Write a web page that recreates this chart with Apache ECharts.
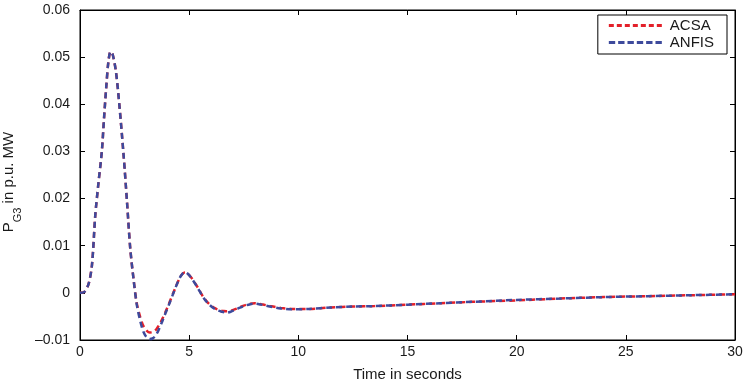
<!DOCTYPE html>
<html>
<head>
<meta charset="utf-8">
<script src="https://cdn.jsdelivr.net/npm/echarts@6/dist/echarts.min.js"></script>
<style>
  html, body { margin: 0; padding: 0; background: #fff; }
  #chart { width: 748px; height: 381px; }
</style>
</head>
<body>
<div id="chart"></div>
<script>
// time samples (s)
var timeArr = [0, 0.2, 0.4, 0.55, 0.7, 0.85, 1.0, 1.1, 1.2, 1.3, 1.4, 1.5, 1.65, 1.8, 2.0, 2.15, 2.3, 2.45, 2.6, 2.75,
  2.9, 3.05, 3.2, 3.35, 3.5, 3.7, 3.9, 4.1, 4.3, 4.5, 4.65, 4.8, 4.95, 5.15, 5.4, 5.65, 5.9, 6.2, 6.5, 6.7,
  6.9, 7.2, 7.5, 7.8, 8.0, 8.3, 8.7, 9.2, 9.7, 10.5, 11.5, 12.5, 13.5, 15, 16.5, 18, 20, 22, 24, 26, 28, 30];

var anfisArr = [0, 0.0002, 0.002, 0.006, 0.0165, 0.0235, 0.030, 0.037, 0.0435, 0.049, 0.0512, 0.0505, 0.0468, 0.040, 0.029, 0.0195, 0.0095, 0.003, -0.0025, -0.0058,
  -0.0082, -0.0094, -0.0098, -0.0096, -0.0088, -0.0068, -0.0045, -0.0022, 0.0002, 0.0025, 0.0038, 0.0044, 0.0040, 0.0028, 0.0010, -0.0010, -0.0024, -0.0035, -0.0040, -0.0042,
  -0.0040, -0.0034, -0.0028, -0.0024, -0.0023, -0.0025, -0.0029, -0.0033, -0.0035, -0.0034, -0.0031, -0.0029, -0.0028, -0.0025, -0.0022, -0.0019, -0.0015, -0.0012, -0.0009, -0.0007, -0.0005, -0.0003];

var acsaArr = [0, 0.0002, 0.002, 0.006, 0.0165, 0.0235, 0.030, 0.037, 0.0435, 0.049, 0.0512, 0.0505, 0.0468, 0.040, 0.029, 0.0195, 0.0095, 0.003, -0.0022, -0.0050,
  -0.0070, -0.0080, -0.0084, -0.0083, -0.0077, -0.0062, -0.0042, -0.0020, 0.0003, 0.0025, 0.0038, 0.0043, 0.0040, 0.0029, 0.0011, -0.0009, -0.0023, -0.0033, -0.0038, -0.0039,
  -0.0038, -0.0033, -0.0027, -0.0023, -0.0022, -0.0024, -0.0028, -0.0032, -0.0034, -0.0034, -0.0031, -0.0029, -0.0028, -0.0025, -0.0022, -0.0019, -0.0016, -0.0012, -0.0009, -0.0007, -0.0005, -0.0003];

var seriesNames = ["ACSA", "ANFIS"];
var xTicks = [0, 30, 5];
var yTicks = [-0.01, 0.06, 0.01];

function pairs(xs, ys) {
  var out = [];
  for (var i = 0; i < xs.length; i++) out.push([xs[i], ys[i]]);
  return out;
}

// dashed legend sample as a filled path (n dashes)
function dashIcon(n, period, dash) {
  var p = "path://";
  for (var i = 0; i < n; i++) {
    var x = i * period;
    p += "M" + x + ",0h" + dash + "v3h-" + dash + "z";
  }
  return p;
}

var font = "Liberation Sans, Arial, Helvetica, sans-serif";
var txt = "#1a1a1a";

var myChart = echarts.init(document.getElementById("chart"));
myChart.setOption({
  animation: false,
  color: ["#e3202a", "#3d4a9c"],
  textStyle: { fontFamily: font, color: txt },
  grid: {
    left: 80, right: 13, top: 10, bottom: 41,
    containLabel: false, outerBoundsMode: "none",
    show: true, borderColor: "#000", borderWidth: 1
  },
  legend: {
    data: [
      { name: seriesNames[0], icon: dashIcon(7, 8, 5) },
      { name: seriesNames[1], icon: dashIcon(6, 9.4, 6.4) }
    ],
    orient: "vertical",
    right: 21, top: 15,
    backgroundColor: "#fff",
    borderColor: "#000", borderWidth: 1,
    padding: [3, 13, 4, 11],
    itemGap: 2,
    itemWidth: 53, itemHeight: 3,
    textStyle: { fontFamily: font, fontSize: 15, color: txt, padding: [0, 0, 0, 3] }
  },
  xAxis: [{
    type: "value",
    min: xTicks[0], max: xTicks[1], interval: xTicks[2],
    name: "Time in seconds",
    nameLocation: "middle",
    nameGap: 27,
    nameTextStyle: { fontSize: 15, color: txt, fontFamily: font },
    axisLine: { onZero: false, lineStyle: { color: "#000" } },
    axisTick: { inside: true, length: 5, lineStyle: { color: "#000" } },
    axisLabel: { fontSize: 14, color: txt, margin: 5 },
    splitLine: { show: false }
  }, {
    type: "value", position: "top",
    min: xTicks[0], max: xTicks[1], interval: xTicks[2],
    axisLine: { onZero: false, lineStyle: { color: "#000" } },
    axisTick: { inside: true, length: 5, lineStyle: { color: "#000" } },
    axisLabel: { show: false },
    splitLine: { show: false }
  }],
  yAxis: [{
    type: "value",
    min: yTicks[0], max: yTicks[1], interval: yTicks[2],
    name: "{a|P}{b|G3}{a| in p.u. MW}",
    nameLocation: "middle",
    nameRotate: 90,
    nameGap: 57,
    nameTextStyle: {
      padding: [0, 14, 0, 0],
      rich: {
        a: { fontSize: 15, color: txt, fontFamily: font, lineHeight: 18 },
        b: { fontSize: 11, color: txt, fontFamily: font, verticalAlign: "bottom", padding: [18, 0, 0, 0] }
      }
    },
    axisLine: { onZero: false, lineStyle: { color: "#000" } },
    axisTick: { inside: true, length: 5, lineStyle: { color: "#000" } },
    axisLabel: {
      fontSize: 14, color: txt, margin: 10,
      formatter: function (v) {
        if (Math.abs(v) < 1e-9) return "0";
        var s = Math.abs(v).toFixed(2);
        return v < 0 ? "\u2013" + s : s;
      }
    },
    splitLine: { show: false }
  }, {
    type: "value", position: "right",
    min: yTicks[0], max: yTicks[1], interval: yTicks[2],
    axisLine: { onZero: false, lineStyle: { color: "#000" } },
    axisTick: { inside: true, length: 5, lineStyle: { color: "#000" } },
    axisLabel: { show: false },
    splitLine: { show: false }
  }],
  series: [{
    name: seriesNames[0],
    type: "line",
    data: pairs(timeArr, acsaArr),
    smooth: 0.3,
    symbol: "none",
    lineStyle: { width: 2.5, type: [6, 4] }
  }, {
    name: seriesNames[1],
    type: "line",
    data: pairs(timeArr, anfisArr),
    smooth: 0.3,
    symbol: "none",
    lineStyle: { width: 2.5, type: [6, 4] }
  }]
});
</script>
</body>
</html>
